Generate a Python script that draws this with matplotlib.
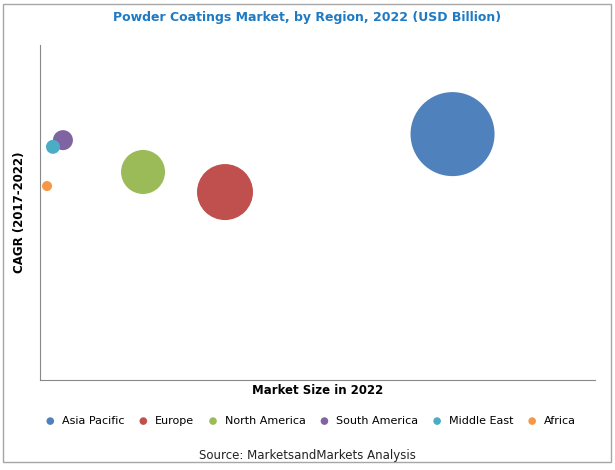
import matplotlib
matplotlib.use("Agg")
import matplotlib.pyplot as plt
from matplotlib.patches import Rectangle

regions = ["Asia Pacific", "Europe", "North America", "South America", "Middle East", "Africa"]
market_size = [22.3, 10.0, 5.57, 1.24, 0.70, 0.38]
cagr = [7.34, 5.61, 6.21, 7.16, 6.96, 5.79]
bubble = [3660, 1626, 1004, 207, 101, 52]
colors = ["#4f81bd", "#c0504d", "#9bbb59", "#8064a2", "#4bacc6", "#f79646"]

plt.rcParams['font.family'] = ['Verdana', 'DejaVu Sans']
fig = plt.figure(figsize=(6.15, 4.70), dpi=100)
fig.patches.append(Rectangle((0.005, 0.017), 0.988, 0.975, transform=fig.transFigure,
                             fill=False, edgecolor="#a6a6a6", lw=1))
ax = fig.add_axes([40/615, 1-380/470, 555/615, 335/470])
for r, x, y, s, c in zip(regions, market_size, cagr, bubble, colors):
    ax.scatter(x, y, s=s, color=c, label=r, edgecolors='none')
ax.set_xlim(0, 30)
ax.set_ylim(0, 10)
ax.set_xticks([]); ax.set_yticks([])
for sp in ["top", "right"]:
    ax.spines[sp].set_visible(False)
for sp in ["left", "bottom"]:
    ax.spines[sp].set_color("#888888")
ax.set_xlabel("Market Size in 2022", fontsize=8.5, fontweight="bold", labelpad=3)
ax.set_ylabel("CAGR (2017-2022)", fontsize=8.5, fontweight="bold", labelpad=10)
fig.text(0.5, 1-17/470, "Powder Coatings Market, by Region, 2022 (USD Billion)",
         ha="center", va="center", color="#1f7ac4", fontsize=9, fontweight="bold")
leg = fig.legend(loc="center", bbox_to_anchor=(0.5, 1-421/470), ncol=6, frameon=False,
                 fontsize=8, handletextpad=0.05, columnspacing=0.7, markerscale=1)
for h in leg.legend_handles:
    h.set_sizes([30])
fig.text(0.5, 1-456/470, "Source: MarketsandMarkets Analysis", ha="center", va="center",
         fontsize=8.5, color="#222222")
fig.savefig("out.png", dpi=100)
